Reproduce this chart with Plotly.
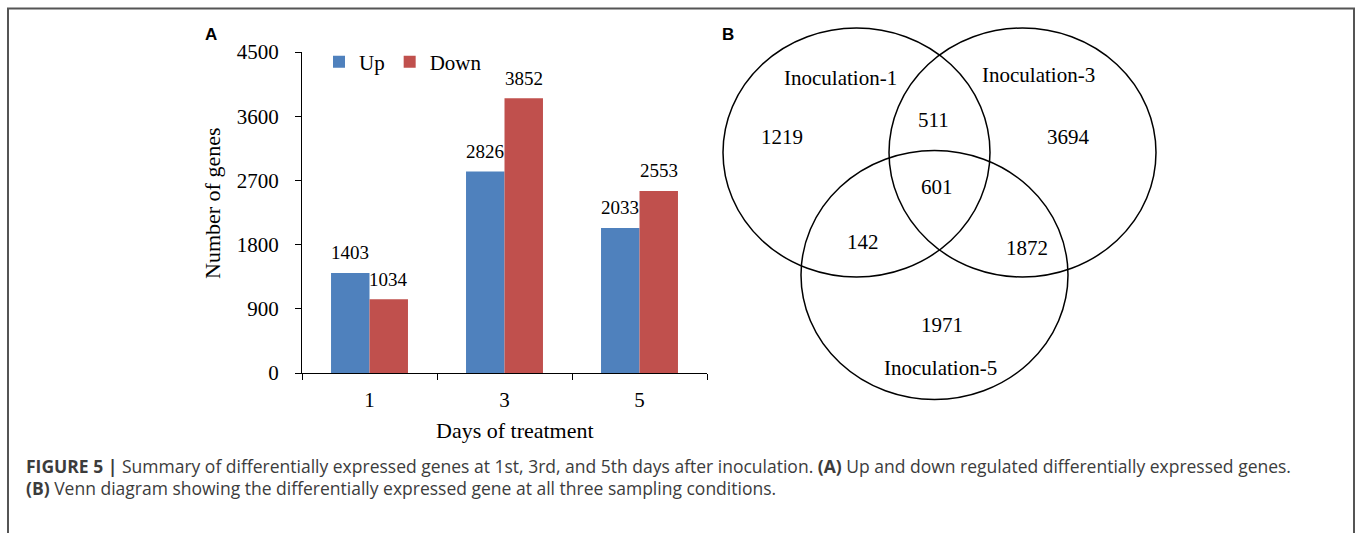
import plotly.graph_objects as go

# ---- data ----
days = ["1", "3", "5"]
up_genes = [1403, 2826, 2033]
down_genes = [1034, 3852, 2553]
y_ticks = [0, 900, 1800, 2700, 3600, 4500]

venn_sets = ["Inoculation-1", "Inoculation-3", "Inoculation-5"]
only_1 = 1219
only_3 = 3694
only_5 = 1971
both_1_3 = 511
both_1_5 = 142
both_3_5 = 1872
all_three = 601

# ---- figure geometry (pixels) ----
W, H = 1357, 533
BLUE = "#4F81BD"
RED = "#C0504D"
SERIF = "Liberation Serif, Times New Roman, serif"
SANS = "Liberation Sans, Arial, sans-serif"
CAPTION = "Open Sans, Liberation Sans, sans-serif"


def px(x):
    return x / W


def py(y):
    return 1 - y / H


fig = go.Figure()

fig.add_trace(go.Bar(x=days, y=up_genes, name="Up", marker=dict(color=BLUE, line=dict(width=0))))
fig.add_trace(go.Bar(x=days, y=down_genes, name="Down", marker=dict(color=RED, line=dict(width=0))))

annotations = []

# value labels above each bar (category index on x, bar value on y)
bar_half = 19.25
for i, (u, v) in enumerate(zip(up_genes, down_genes)):
    annotations.append(dict(x=i, y=u, xref="x", yref="y", text=str(u), showarrow=False,
                            xshift=-bar_half, yshift=20, yanchor="middle",
                            font=dict(family=SERIF, size=19, color="black")))
    annotations.append(dict(x=i, y=v, xref="x", yref="y", text=str(v), showarrow=False,
                            xshift=bar_half, yshift=20, yanchor="middle",
                            font=dict(family=SERIF, size=19, color="black")))

# axis titles
annotations.append(dict(x=px(515), y=py(430), xref="paper", yref="paper", text="Days of treatment",
                        showarrow=False, xanchor="center", yanchor="middle",
                        font=dict(family=SERIF, size=22, color="black")))
annotations.append(dict(x=px(212), y=py(203), xref="paper", yref="paper", text="Number of genes",
                        showarrow=False, xanchor="center", yanchor="middle", textangle=-90,
                        font=dict(family=SERIF, size=22, color="black")))

# panel letters
for letter, lx in (("A", 211), ("B", 728)):
    annotations.append(dict(x=px(lx), y=py(35), xref="paper", yref="paper", text="<b>%s</b>" % letter,
                            showarrow=False, xanchor="center", yanchor="middle",
                            font=dict(family=SANS, size=17, color="black")))

# ---- Venn diagram (x2/y2 in pixel units) ----
rx, ry = 133.5, 124.5
circles = [(856.5, 152.5), (1022.5, 152.5), (934.5, 275.0)]
shapes = []
for cx, cy in circles:
    shapes.append(dict(type="circle", xref="x2", yref="y2", x0=cx - rx, x1=cx + rx,
                       y0=cy - ry, y1=cy + ry, line=dict(color="black", width=1.5)))

venn_text = [
    (venn_sets[0], 840, 78),
    (venn_sets[1], 1038, 75),
    (venn_sets[2], 940, 368),
    (str(only_1), 782, 137),
    (str(both_1_3), 933, 120),
    (str(only_3), 1068, 137),
    (str(all_three), 937, 187),
    (str(both_1_5), 863, 242),
    (str(both_3_5), 1027, 248),
    (str(only_5), 942, 325),
]
for t, tx, ty in venn_text:
    annotations.append(dict(x=tx, y=ty, xref="x2", yref="y2", text=t, showarrow=False,
                            xanchor="center", yanchor="middle",
                            font=dict(family=SERIF, size=21, color="black")))

# ---- caption ----
cap_font = dict(family=CAPTION, size=17.5, color="#3c3c3c")
annotations.append(dict(x=px(24), y=py(466), xref="paper", yref="paper", xanchor="left", yanchor="middle",
                        showarrow=False, font=cap_font,
                        text="<b>FIGURE 5 |</b> Summary of differentially expressed genes at 1st, 3rd, and 5th days "
                             "after inoculation. <b>(A)</b> Up and down regulated differentially expressed genes."))
annotations.append(dict(x=px(24), y=py(488), xref="paper", yref="paper", xanchor="left", yanchor="middle",
                        showarrow=False, font=cap_font,
                        text="<b>(B)</b> Venn diagram showing the differentially expressed gene at all three "
                             "sampling conditions."))

# figure frame
shapes.append(dict(type="path", xref="paper", yref="paper",
                   path="M %f,%f L %f,%f L %f,%f L %f,%f" % (px(8), -0.1, px(8), py(8.5),
                                                             px(1354), py(8.5), px(1354), -0.1),
                   line=dict(color="#555555", width=2)))

fig.update_layout(
    template="none",
    width=W, height=H,
    margin=dict(l=0, r=0, t=0, b=0, pad=0, autoexpand=False),
    paper_bgcolor="white", plot_bgcolor="rgba(0,0,0,0)",
    barmode="group", bargap=0.43, bargroupgap=0,
    showlegend=True,
    legend=dict(orientation="h", x=px(319), y=py(62), xanchor="left", yanchor="middle",
                font=dict(family=SERIF, size=21, color="black"), bgcolor="rgba(0,0,0,0)",
                itemwidth=30, tracegroupgap=0),
    xaxis=dict(domain=[px(302), px(707)], type="category", range=[-0.5, 2.5], tickson="boundaries",
               showline=True, linecolor="black", linewidth=1.2, ticks="outside", ticklen=6,
               tickcolor="black", tickwidth=1.2, showgrid=False, zeroline=False, automargin=False,
               tickfont=dict(family=SERIF, size=21, color="black"), ticklabelstandoff=8),
    yaxis=dict(domain=[py(373), py(52)], range=[0, 4500], tickvals=y_ticks,
               showline=True, linecolor="black", linewidth=1.2, ticks="outside", ticklen=6,
               tickcolor="black", tickwidth=1.2, showgrid=False, zeroline=False, automargin=False,
               tickfont=dict(family=SERIF, size=21, color="black"), ticklabelstandoff=12),
    xaxis2=dict(domain=[0, 1], range=[0, W], visible=False, anchor="y2", fixedrange=True, automargin=False),
    yaxis2=dict(domain=[0, 1], range=[H, 0], visible=False, anchor="x2", fixedrange=True, automargin=False),
    shapes=shapes,
    annotations=annotations,
)

fig.write_html("out.html")
